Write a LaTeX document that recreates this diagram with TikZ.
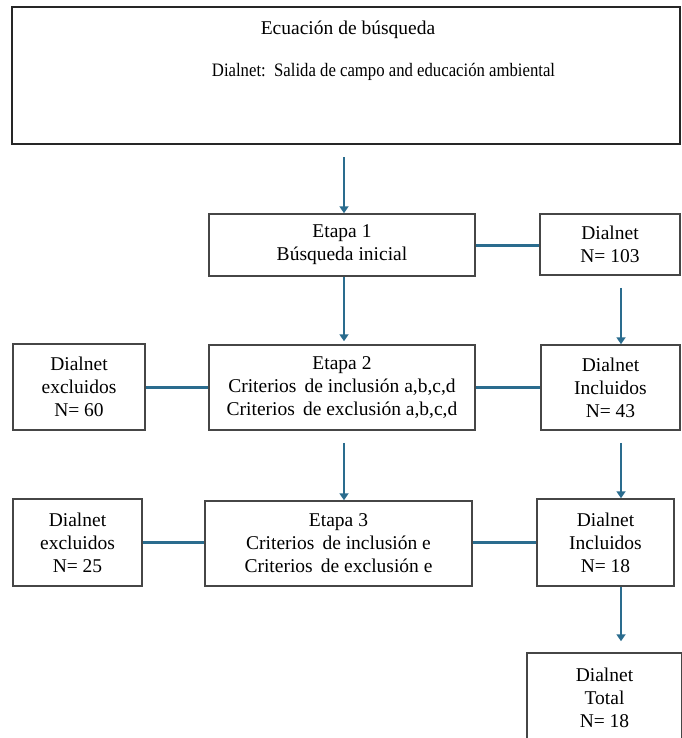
\documentclass[tikz,border=0pt]{standalone}
\usepackage{fontspec}
\setmainfont{Liberation Serif}
\usetikzlibrary{arrows.meta}
\definecolor{flow}{RGB}{42,108,142}
\definecolor{edge}{RGB}{70,70,70}
\begin{document}
\begin{tikzpicture}[x=1pt,y=-1pt,
  box/.style={draw=edge,line width=1.5pt,fill=white,align=center,inner sep=0pt,
    font=\fontsize{19.5}{23}\selectfont},
  bigbox/.style={draw=black!85,line width=2.6pt,fill=white,inner sep=0pt},
  txt/.style={inner sep=0pt},
  arr/.style={draw=flow,line width=2.6pt,-{Triangle[width=9pt,length=7pt]}},
  link/.style={draw=flow,line width=3pt}]
\useasboundingbox (0,0) rectangle (681,738);
\fill[white] (0,0) rectangle (681,738);
% top box
\node[bigbox,minimum width=668pt,minimum height=137pt] (top) at (346,75.5) {};
\node[txt,font=\fontsize{19.5}{23}\selectfont] (t1) at (348,30) {Ecuación de búsqueda};
\node[txt,font=\fontsize{19}{23}\selectfont] (t2) at (383.5,72) {\scalebox{0.88}[1]{Dialnet:\, Salida de campo and educación ambiental}};
% row 1
\node[box,minimum width=266pt,minimum height=62pt] (e1) at (342,245) {Etapa 1\\Búsqueda inicial};
\node[box,minimum width=140pt,minimum height=61pt] (d1) at (610,244.5) {Dialnet\\N= 103};
% row 2
\node[box,minimum width=132pt,minimum height=86pt] (x2) at (79,387) {Dialnet\\excluidos\\N= 60};
\node[box,minimum width=266pt,minimum height=85pt] (e2) at (342,387.5) {Etapa 2\\Criterios\, de inclusión a,b,c,d\\Criterios\, de exclusión a,b,c,d};
\node[box,minimum width=139pt,minimum height=85pt] (i2) at (610.5,387.5) {Dialnet\\Incluidos\\N= 43};
% row 3
\node[box,minimum width=129pt,minimum height=87pt] (x3) at (77.5,542.5) {Dialnet\\excluidos\\N= 25};
\node[box,minimum width=267pt,minimum height=85pt] (e3) at (338.5,543.5) {Etapa 3\\Criterios\, de inclusión e\\Criterios\, de exclusión e};
\node[box,minimum width=137pt,minimum height=87pt] (i3) at (605.5,542.5) {Dialnet\\Incluidos\\N= 18};
% total
\node[box,minimum width=155pt,minimum height=90pt] (tot) at (604.5,698) {Dialnet\\Total\\N= 18};
% vertical arrows
\draw[arr,shorten <=12pt] (top.south -| 344,0) -- (e1.north -| 344,0);
\draw[arr,shorten >=3pt] (e1.south -| 344,0) -- (e2.north -| 344,0);
\draw[arr,shorten <=12pt] (e2.south -| 344,0) -- (e3.north -| 344,0);
\draw[arr,shorten <=12pt] (d1.south -| 621,0) -- (i2.north -| 621,0);
\draw[arr,shorten <=12pt] (i2.south -| 621,0) -- (i3.north -| 621,0);
\draw[arr,shorten >=11pt] (i3.south -| 621,0) -- (tot.north -| 621,0);
% horizontal links
\draw[link] (e1.east) -- (d1.west |- e1.east);
\draw[link] (x2.east) -- (e2.west |- x2.east);
\draw[link] (e2.east) -- (i2.west |- e2.east);
\draw[link] (x3.east) -- (e3.west |- x3.east);
\draw[link] (e3.east |- i3.west) -- (i3.west);
\end{tikzpicture}
\end{document}
